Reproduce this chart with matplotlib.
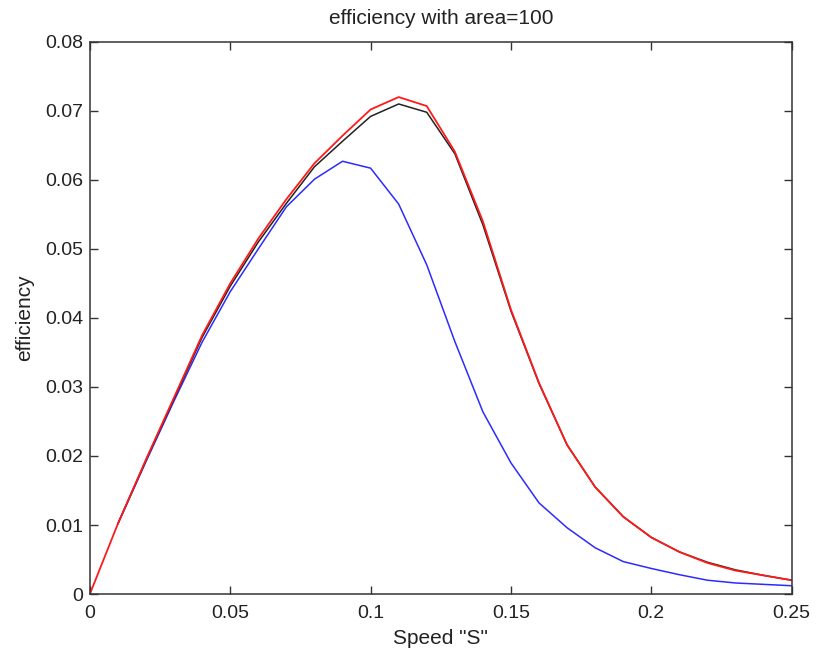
import numpy as np
import matplotlib
matplotlib.use("Agg")
import matplotlib.pyplot as plt

plt.rcParams['font.family'] = ['Liberation Sans', 'DejaVu Sans']

speed = [0.00, 0.01, 0.02, 0.03, 0.04, 0.05, 0.06, 0.07, 0.08, 0.09, 0.10, 0.11, 0.12,
         0.13, 0.14, 0.15, 0.16, 0.17, 0.18, 0.19, 0.20, 0.21, 0.22, 0.23, 0.24, 0.25]

eff_red = [0.0, 0.0102, 0.0195, 0.0285, 0.0375, 0.0450, 0.0515, 0.0572, 0.0624, 0.0664,
           0.0702, 0.0720, 0.0707, 0.0641, 0.0540, 0.0412, 0.0306, 0.0216, 0.0155,
           0.0112, 0.0082, 0.0061, 0.0045, 0.0034, 0.0027, 0.0020]

eff_black = [0.0102, 0.0194, 0.0283, 0.0372, 0.0446, 0.0510, 0.0566, 0.0619, 0.0656,
             0.0692, 0.0710, 0.0698, 0.0638, 0.0535, 0.0410, 0.0305, 0.0216, 0.0155,
             0.0112, 0.0082, 0.0061, 0.0046, 0.0035, 0.0027, 0.0020]

eff_blue = [0.0102, 0.0192, 0.0280, 0.0365, 0.0438, 0.0500, 0.0561, 0.0601, 0.0627,
            0.0617, 0.0565, 0.0477, 0.0366, 0.0264, 0.0190, 0.0132, 0.0096, 0.0067,
            0.0047, 0.0037, 0.0028, 0.0020, 0.0016, 0.0014, 0.0012]

fig = plt.figure(figsize=(8.17, 6.54), dpi=100)
ax = fig.add_axes([0.110, 0.0917, 0.859, 0.8443])

ax.plot(speed[1:], eff_blue, color='#2b2bff', lw=1.1)
ax.plot(speed[1:], eff_black, color='#222222', lw=1.1)
ax.plot(speed, eff_red, color='#ff1a1a', lw=1.3)

ax.set_xlim(0, 0.25)
ax.set_ylim(0, 0.08)
ax.set_xticks([0, 0.05, 0.1, 0.15, 0.2, 0.25])
ax.set_xticklabels(['0', '0.05', '0.1', '0.15', '0.2', '0.25'])
ax.set_yticks(np.arange(0, 0.081, 0.01))
ax.set_yticklabels(['0', '0.01', '0.02', '0.03', '0.04', '0.05', '0.06', '0.07', '0.08'])

ax.tick_params(direction='in', top=True, right=True, length=6, width=1,
               labelsize=14, colors='#333333', labelcolor='#222222')
ax.tick_params(axis='x', pad=8)
ax.tick_params(axis='y', pad=5)
for s in ax.spines.values():
    s.set_linewidth(1.1)
    s.set_color('#333333')

ax.set_xlabel('Speed "S"', fontsize=15, labelpad=5, color='#222222')
ax.set_ylabel('efficiency', fontsize=15, labelpad=8, color='#222222')
ax.set_title('efficiency with area=100', fontsize=15, pad=13, color='#222222')

fig.savefig('out.png', dpi=100)
